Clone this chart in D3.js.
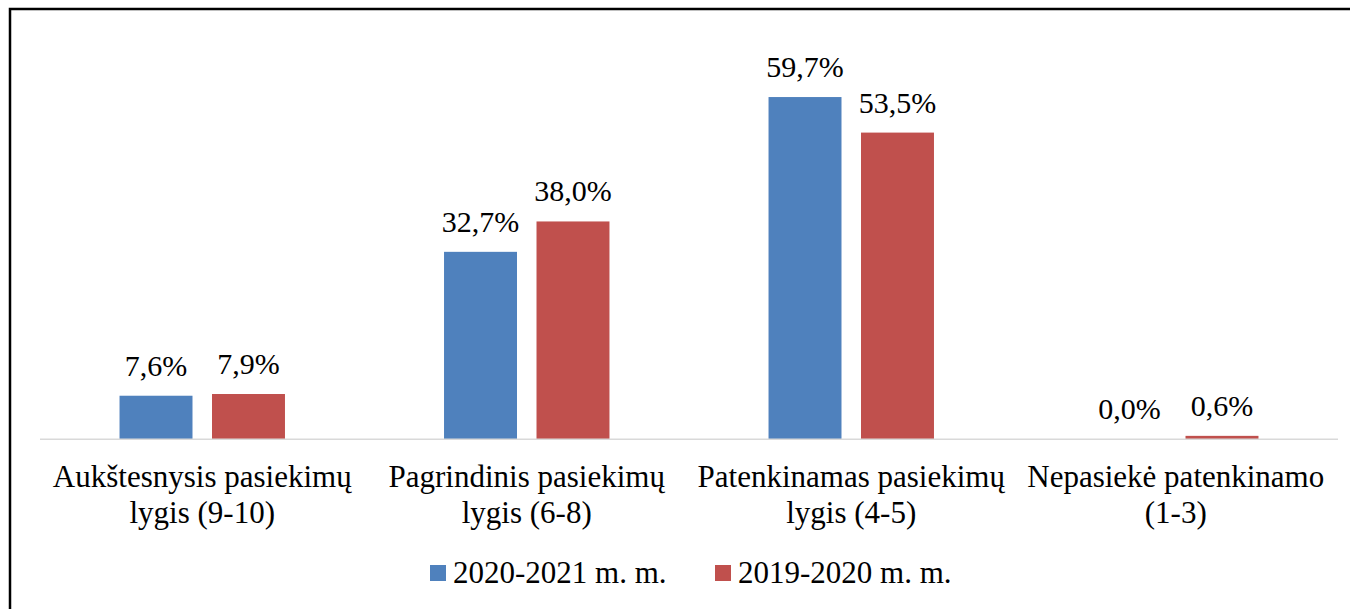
<!DOCTYPE html>
<html lang="lt">
<head>
    <meta charset="UTF-8">
    <title>Pasiekimų lygiai</title>
    <script src="https://d3js.org/d3.v7.min.js"></script>
    <style>
        body { margin: 0; background: #fff; }
        svg text { font-family: 'Liberation Serif', 'Times New Roman', Times, 'DejaVu Serif', serif; fill: #000; }
    </style>
</head>
<body>
<svg width="1350" height="609"></svg>
<script>
    // data
    const categories = [
        "Aukštesnysis pasiekimų\nlygis (9-10)",
        "Pagrindinis pasiekimų\nlygis (6-8)",
        "Patenkinamas pasiekimų\nlygis (4-5)",
        "Nepasiekė patenkinamo\n(1-3)"
    ];
    const seriesNames = ["2020-2021 m. m.", "2019-2020 m. m."];
    const values2021 = [7.6, 32.7, 59.7, 0.0];
    const values2020 = [7.9, 38.0, 53.5, 0.6];
    const colors = ["#4f81bd", "#c0504d"];

    const serif = "'Liberation Serif', 'Times New Roman', Times, 'DejaVu Serif', serif";

    const seriesValues = [values2021, values2020];
    const rows = categories.map((c, i) => ({
        cat: c,
        vals: seriesValues.map((s, j) => ({ key: seriesNames[j], v: s[i], j: j }))
    }));

    const svg = d3.select("svg");

    // outer frame (runs off the right and bottom edge)
    svg.append("rect")
        .attr("x", 10).attr("y", 9)
        .attr("width", 1360).attr("height", 620)
        .attr("fill", "none")
        .attr("stroke", "#000")
        .attr("stroke-width", 2.5);

    const left = 40, right = 1338, baseY = 439.3;

    const x0 = d3.scaleBand().domain(categories).range([left, right]).padding(0);
    const x1 = d3.scaleBand().domain(seriesNames)
        .range([0, x0.bandwidth()])
        .paddingInner(0.211)
        .paddingOuter(0.86);
    const y = d3.scaleLinear().domain([0, 70]).range([baseY, 38]);

    const groups = svg.selectAll(".grp")
        .data(rows)
        .join("g")
        .attr("class", "grp")
        .attr("transform", d => "translate(" + x0(d.cat) + ",0)");

    groups.selectAll("rect")
        .data(d => d.vals)
        .join("rect")
        .attr("x", d => x1(d.key))
        .attr("y", d => y(d.v))
        .attr("width", x1.bandwidth())
        .attr("height", d => y(0) - y(d.v))
        .attr("fill", d => colors[d.j]);

    // baseline
    svg.append("line")
        .attr("x1", left).attr("x2", right)
        .attr("y1", baseY).attr("y2", baseY)
        .attr("stroke", "#d9d9d9")
        .attr("stroke-width", 1.5);

    // value labels
    groups.selectAll(".val")
        .data(d => d.vals)
        .join("text")
        .attr("class", "val")
        .attr("x", d => x1(d.key) + x1.bandwidth() / 2)
        .attr("y", d => y(d.v) - 20)
        .attr("text-anchor", "middle")
        .attr("font-family", serif)
        .style("font-size", "30px")
        .text(d => d.v.toFixed(1).replace(".", ",") + "%");

    // category labels, two lines each
    groups.append("text")
        .attr("text-anchor", "middle")
        .attr("font-family", serif)
        .style("font-size", "31px")
        .selectAll("tspan")
        .data(d => d.cat.split("\n"))
        .join("tspan")
        .attr("x", x0.bandwidth() / 2)
        .attr("y", (d, i) => 487 + i * 36)
        .text(d => d);

    // legend
    const legendX = [430, 715];
    const legend = svg.selectAll(".leg")
        .data(seriesNames)
        .join("g")
        .attr("class", "leg")
        .attr("transform", (d, i) => "translate(" + legendX[i] + ",565)");
    legend.append("rect")
        .attr("width", 16).attr("height", 16)
        .attr("fill", (d, i) => colors[i]);
    legend.append("text")
        .attr("x", 23).attr("y", 18.3)
        .attr("font-family", serif)
        .style("font-size", "31px")
        .text(d => d);
</script>
</body>
</html>
